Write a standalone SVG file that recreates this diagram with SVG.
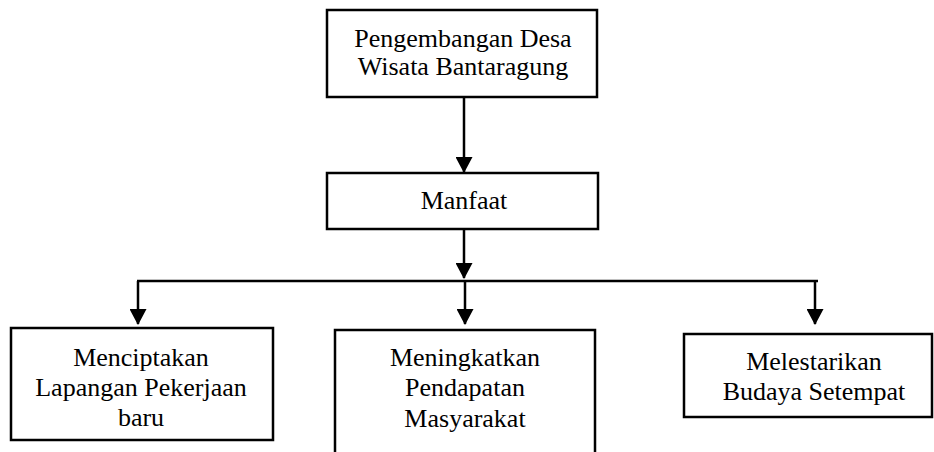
<svg xmlns="http://www.w3.org/2000/svg" width="934" height="452" viewBox="0 0 934 452">
<defs>
<style>
.box{fill:#fff;stroke:#000;stroke-width:2.5}
.t{font-family:"Liberation Serif","Times New Roman",serif;font-size:26px;fill:#000;text-anchor:middle}
.c{fill:none;stroke:#000;stroke-width:2.5}
</style>
<marker id="ah" markerUnits="userSpaceOnUse" markerWidth="16" markerHeight="17" refX="15" refY="8.5" orient="auto" viewBox="0 0 16 17">
<path d="M0,0 L16,8.5 L0,17 z" fill="#000"/>
</marker>
</defs>
<g id="connectors">
<line class="c" x1="464" y1="97" x2="464" y2="172" marker-end="url(#ah)"/>
<line class="c" x1="464" y1="229" x2="464" y2="278" marker-end="url(#ah)"/>
<line class="c" x1="137" y1="281" x2="818" y2="281"/>
<line class="c" x1="138" y1="281" x2="138" y2="324" marker-end="url(#ah)"/>
<line class="c" x1="465" y1="281" x2="465" y2="324" marker-end="url(#ah)"/>
<line class="c" x1="815" y1="281" x2="815" y2="324" marker-end="url(#ah)"/>
</g>
<g id="n1">
<rect class="box" x="327" y="10" width="270" height="87"/>
<text class="t" x="463" y="47">Pengembangan Desa</text>
<text class="t" x="463" y="75">Wisata Bantaragung</text>
</g>
<g id="n2">
<rect class="box" x="327" y="173" width="271" height="56"/>
<text class="t" x="464" y="209">Manfaat</text>
</g>
<g id="n3">
<rect class="box" x="11" y="328" width="262" height="112"/>
<text class="t" x="141" y="366">Menciptakan</text>
<text class="t" x="141" y="396">Lapangan Pekerjaan</text>
<text class="t" x="141" y="426">baru</text>
</g>
<g id="n4">
<rect class="box" x="335" y="330" width="260" height="140"/>
<text class="t" x="465" y="366">Meningkatkan</text>
<text class="t" x="465" y="396">Pendapatan</text>
<text class="t" x="465" y="427">Masyarakat</text>
</g>
<g id="n5">
<rect class="box" x="684" y="334" width="248" height="83"/>
<text class="t" x="814" y="370">Melestarikan</text>
<text class="t" x="814" y="400">Budaya Setempat</text>
</g>
</svg>
